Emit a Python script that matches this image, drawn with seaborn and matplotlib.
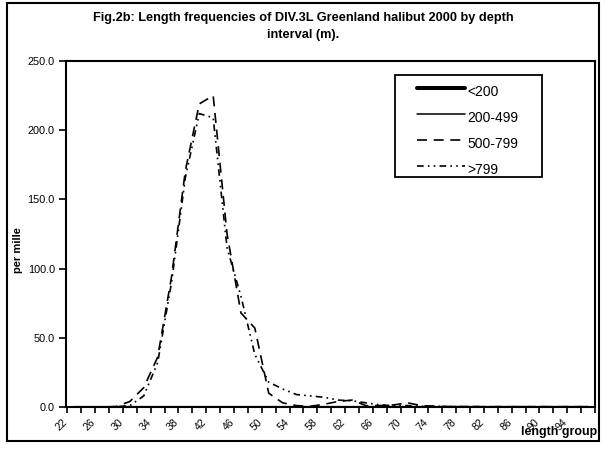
import matplotlib
matplotlib.use("Agg")
import matplotlib.pyplot as plt
import matplotlib.patches as mpatches
from matplotlib.lines import Line2D
import seaborn as sns
import numpy as np
import pandas as pd

sns.set_theme(style="white")
plt.rcParams['font.family'] = ['Liberation Sans', 'DejaVu Sans']
for k in ["text.color", "axes.labelcolor", "xtick.color", "ytick.color", "axes.edgecolor"]:
    plt.rcParams[k] = "black"

# ---- data ----
length_groups = list(range(22, 97, 2))
series_names = ["<200", "200-499", "500-799", ">799"]
s_lt200 = [0] * 38
s_200_499 = [0] * 38
s_500_799 = [0, 0, 0, 0.3, 4, 14, 36, 94, 171, 219, 225, 125, 68, 57, 10, 3, 1, 0.5, 2, 4,
             5, 1, 1, 1.5, 3, 1, 0.5, 0.3, 0.3, 0.2, 0.2, 0.2, 0.2, 0.2, 0.2, 0.2, 0.2, 0.2]
s_gt799 = [0, 0, 0, 0.2, 1, 8, 32, 90, 166, 212, 209, 115, 80, 38, 18, 13, 9, 8, 7, 5,
           4.5, 3, 1.5, 1, 1, 0.5, 0.5, 0.3, 0.3, 0.3, 0.2, 0.2, 0.2, 0.2, 0.2, 0.2, 0.2, 0.2]
y_ticks = [0, 50, 100, 150, 200, 250]

W, H = 605, 453
fig = plt.figure(figsize=(W / 100, H / 100), dpi=100)
fig.patch.set_facecolor("white")

L, R, T, B = 66, 595, 61, 407
ax = fig.add_axes([L / W, 1 - B / H, (R - L) / W, (B - T) / H])
ax.set_facecolor("white")

pos = np.arange(len(length_groups))
styles = {
    "<200": dict(lw=2.3, ls="-"),
    "200-499": dict(lw=1.1, ls="-"),
    "500-799": dict(lw=1.2, ls=(0, (6, 4))),
    ">799": dict(lw=1.2, ls=(0, (4, 2.5, 1, 2.5, 1, 2.5))),
}
data = {"<200": s_lt200, "200-499": s_200_499, "500-799": s_500_799, ">799": s_gt799}
for name in series_names:
    df = pd.DataFrame({"x": pos, "y": data[name]})
    sns.lineplot(data=df, x="x", y="y", ax=ax, color="black",
                 linewidth=styles[name]["lw"], linestyle=styles[name]["ls"],
                 label=name, legend=False)

ax.set_xlim(-0.5, len(length_groups) - 0.5)
ax.set_ylim(0, 250)
ax.set_yticks(y_ticks)
ax.set_yticklabels([f"{v:.1f}" for v in y_ticks], fontsize=7.8)
ax.set_xticks(np.arange(-0.5, len(length_groups), 1.0))
ax.set_xticklabels([])
# labels for every second length group; label anchor sits a little left of the category centre
ax.set_xticks(pos[::2] - 0.6, minor=True)
ax.set_xticklabels([str(v) for v in length_groups[::2]], minor=True,
                   rotation=45, ha="right", va="center", rotation_mode="anchor",
                   fontsize=7.6)
ax.tick_params(axis="x", which="major", direction="out", length=4, width=1.2,
               color="black", bottom=True)
ax.tick_params(axis="x", which="minor", length=0, pad=10)
ax.tick_params(axis="y", direction="out", length=5, width=1.2, color="black", left=True, pad=3)
for sp in ax.spines.values():
    sp.set_visible(True)
    sp.set_color("black")
    sp.set_linewidth(1.5)
ax.set_xlabel("")
ax.set_ylabel("")
ax.grid(False)

# titles / labels
fig.text(303 / W, 1 - 18 / H, "Fig.2b: Length frequencies of DIV.3L Greenland halibut 2000 by depth",
         ha="center", va="center", fontsize=9.2, fontweight="bold")
fig.text(303 / W, 1 - 35 / H, "interval (m).", ha="center", va="center",
         fontsize=9.2, fontweight="bold")
fig.text(18 / W, 1 - 250 / H, "per mille", rotation=90, ha="center", va="center",
         fontsize=8, fontweight="bold")
fig.text(597 / W, 1 - 432 / H, "length group", ha="right", va="center",
         fontsize=8.9, fontweight="bold", zorder=6)

# legend (drawn as a boxed key, Excel style)
fig.add_artist(mpatches.Rectangle((395 / W, 1 - 177 / H), (542 - 395) / W, (177 - 75) / H,
                                  transform=fig.transFigure, fill=True, facecolor="white",
                                  edgecolor="black", linewidth=1.3, zorder=5))
row_y = [88, 114, 140, 166]
for name, yy in zip(series_names, row_y):
    lw = styles[name]["lw"] + (0.6 if name == "<200" else 0)
    fig.add_artist(Line2D([417 / W, 465 / W], [1 - yy / H, 1 - yy / H],
                          transform=fig.transFigure, color="black", lw=lw,
                          ls=styles[name]["ls"], zorder=6))
    fig.text(467 / W, 1 - (yy + 4) / H, name, ha="left", va="center",
             fontsize=10, zorder=6)

# outer border
fig.add_artist(mpatches.Rectangle((7 / W, 1 - 441 / H), (599 - 7) / W, (441 - 3) / H,
                                  transform=fig.transFigure, fill=False,
                                  edgecolor="black", linewidth=1.5))

fig.savefig("out.png", dpi=100)
